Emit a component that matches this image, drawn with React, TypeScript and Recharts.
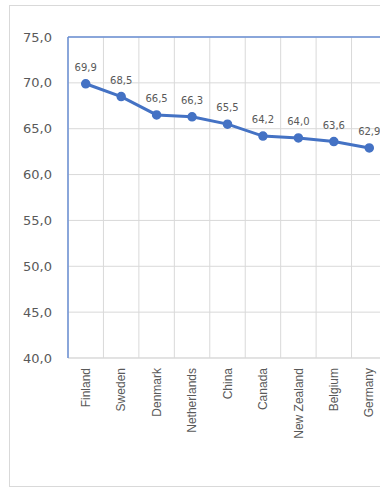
import { LineChart, Line, XAxis, YAxis, CartesianGrid, LabelList, ReferenceLine } from "recharts";

// Countries in the order shown (chart is cut off at the right edge)
const countries = [
  "Finland",
  "Sweden",
  "Denmark",
  "Netherlands",
  "China",
  "Canada",
  "New Zealand",
  "Belgium",
  "Germany",
];
const scores = [69.9, 68.5, 66.5, 66.3, 65.5, 64.2, 64.0, 63.6, 62.9];
const yTicks = [40, 45, 50, 55, 60, 65, 70, 75];

const data = countries.map((country, i) => ({ country, score: scores[i] }));

const BLUE = "#4472C4";
const GRID = "#d9d9d9";
const TEXT = "#595959";

// decimal comma, one digit
const fmt = (v: number) => Number(v).toFixed(1).replace(".", ",");

// Excel puts vertical gridlines between categories, not on them
const bandEdges = ({ offset }: any) =>
  Array.from({ length: countries.length + 1 }, (_, i) => offset.left + (i * offset.width) / countries.length);

const CountryTick = (props: any) => {
  const { x, y, payload } = props;
  return (
    <text
      x={x}
      y={y}
      dy="0.35em"
      transform={`rotate(-90, ${x}, ${y})`}
      textAnchor="end"
      fill={TEXT}
      fontSize={12}
      fontFamily="'Liberation Sans', Arial, sans-serif"
    >
      {payload.value}
    </text>
  );
};

export default function App() {
  return (
    <div style={{ position: "absolute", left: 9, top: 5, width: 371, height: 482, overflow: "hidden" }}>
      <div style={{ width: 420, height: 480, border: `1px solid ${GRID}`, background: "#fff" }}>
        <LineChart width={400} height={480} data={data} margin={{ top: 31, right: 23, left: 0, bottom: 0 }}>
          <CartesianGrid stroke={GRID} strokeWidth={1} verticalCoordinatesGenerator={bandEdges} />
          <XAxis
            dataKey="country"
            scale="band"
            height={128}
            interval={0}
            tickLine={false}
            tickSize={0}
            tickMargin={10}
            axisLine={{ stroke: GRID }}
            tick={<CountryTick />}
          />
          <YAxis
            width={58}
            domain={[40, 75]}
            ticks={yTicks}
            tickFormatter={fmt}
            tickLine={false}
            tickSize={0}
            tickMargin={16}
            axisLine={{ stroke: "#6A8FD4", strokeWidth: 1.5 }}
            tick={{ fill: TEXT, fontSize: 13, fontFamily: "'DejaVu Sans', sans-serif" }}
            interval={0}
          />
          <ReferenceLine y={75} stroke="#6A8FD4" strokeWidth={1.5} />
          <Line
            dataKey="score"
            stroke={BLUE}
            strokeWidth={3}
            dot={{ r: 4, fill: BLUE, stroke: BLUE, strokeWidth: 1.5 }}
            isAnimationActive={false}
          >
            <LabelList
              dataKey="score"
              position="top"
              offset={13}
              formatter={fmt}
              fill={TEXT}
              fontSize={10}
              fontFamily="'DejaVu Sans', sans-serif"
            />
          </Line>
        </LineChart>
      </div>
    </div>
  );
}
